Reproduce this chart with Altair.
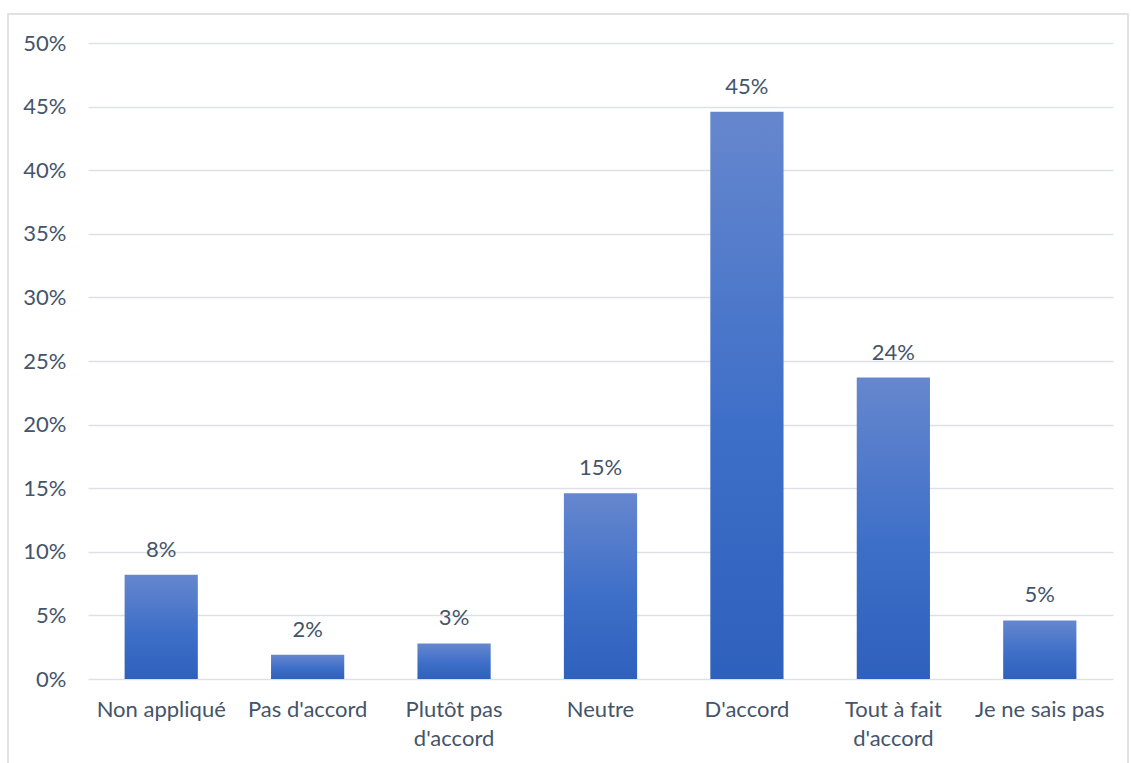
import altair as alt
import pandas as pd

categories = ["Non appliqué", "Pas d'accord", "Plutôt pas d'accord", "Neutre",
              "D'accord", "Tout à fait d'accord", "Je ne sais pas"]
values = [0.082, 0.019, 0.028, 0.146, 0.446, 0.237, 0.046]

df = pd.DataFrame({"cat": categories, "val": values})

FONT = "Lato"
TXT = "#44546A"

grad = alt.Gradient(
    gradient="linear",
    stops=[alt.GradientStop(color="#6687CE", offset=0),
           alt.GradientStop(color="#3E6FC8", offset=0.55),
           alt.GradientStop(color="#2E61BD", offset=1)],
    x1=0, x2=0, y1=0, y2=1,
)

label_expr = ("length(datum.label) > 15 ? "
              "[slice(datum.label, 0, indexof(datum.label, \" d'\")), "
              "slice(datum.label, indexof(datum.label, \" d'\") + 1)] : datum.label")

x = alt.X("cat:N", sort=categories, title=None,
          scale=alt.Scale(paddingInner=0.5, paddingOuter=0.25),
          axis=alt.Axis(labelAngle=0, labelExpr=label_expr, domain=False, ticks=False,
                        labelPadding=20, labelFontSize=22, labelFont=FONT,
                        labelColor=TXT, labelLineHeight=29, labelBaseline="top"))
y = alt.Y("val:Q", title=None,
          scale=alt.Scale(domain=[0, 0.5], nice=False),
          axis=alt.Axis(format=".0%", values=[i * 0.05 for i in range(11)],
                        domain=False, ticks=False, labelPadding=22,
                        labelFontSize=22, labelFont=FONT, labelColor=TXT,
                        gridColor="#DDE1E7", gridWidth=1.5))

bars = alt.Chart(df).mark_bar(color=grad).encode(x=x, y=y)
labels = alt.Chart(df).mark_text(dy=-13, baseline="bottom", fontSize=22, font=FONT,
                                 color=TXT).encode(
    x=alt.X("cat:N", sort=categories),
    y="val:Q",
    text=alt.Text("val:Q", format=".0%"))

border = alt.Chart(pd.DataFrame({"a": [0]})).mark_rect(
    fill=None, stroke="#D9D9D9", strokeWidth=1.5).encode(
    x=alt.value(-80), x2=alt.value(1040), y=alt.value(-29), y2=alt.value(740))

chart = alt.layer(border, bars, labels).properties(
    width=1025, height=636,
    autosize=alt.AutoSizeParams(type="none"),
    padding={"left": 88, "top": 43, "right": 18, "bottom": 84},
    background="white",
).configure_view(stroke=None)

chart.save("out.html", embed_options={"renderer": "svg", "actions": False})
